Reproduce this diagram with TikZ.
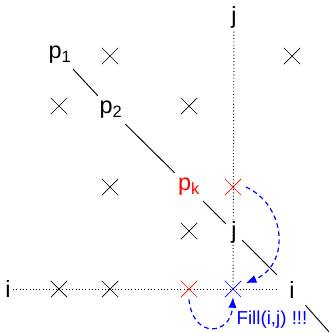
\documentclass[tikz,border=0pt]{standalone}
\usepackage{fontspec}
\setmainfont{Liberation Sans}
\usetikzlibrary{shapes.misc, arrows.meta, positioning}

\begin{document}
\begin{tikzpicture}[x=0.03cm, y=-0.03cm,
  XX/.style ={cross out, draw, line width=0.6pt, minimum size=0.47cm, inner sep=0pt},
  LB/.style ={font=\fontsize{20}{22}\selectfont, inner sep=4.5pt},
  DG/.style ={line width=0.8pt},
  DT/.style ={dotted, line width=0.8pt},
  FA/.style ={-{Latex[length=9pt,width=7pt]}, dash pattern=on 4pt off 3pt, blue, line width=1pt}
]
  \useasboundingbox (0,0) rectangle (328,333);

  % labels on the diagonal
  \node[LB] (p1) at (60,55) {p\textsubscript{1}};
  \node[LB] (p2) at (111,110) {p\textsubscript{2}};
  \node[LB, red] (pk) at (189,187) {p\textsubscript{k}};
  \node[LB] (jm) at (234,232) {j};
  \node[LB, minimum width=0.9cm, minimum height=0.9cm] (ir) at (292,290) {i};
  \coordinate (dend) at (330,333);

  % row and column labels
  \node[LB, inner sep=2pt] (il) at (8,289) {i};
  \node[LB, inner sep=3pt] (jt) at (234,17) {j};
  \coordinate (hend) at (277,289);

  % black crosses
  \foreach \nm/\x/\y in {a/110/56, b/292/56, c/59/106, d/189/106,
                         e/110/187, f/189/231, g/59/289, h/110/289}
    \node[XX] (x\nm) at (\x,\y) {};

  % coloured crosses
  \node[XX, red] (rk) at (233,187) {};
  \node[XX, red] (ri) at (189,289) {};
  \node[XX, blue] (cij) at (233,289) {};

  \draw[DT] (jt) -- (cij.center);
  \draw[DT] (il) -- (hend);

  \foreach \a/\b in {p1/p2,p2/pk,pk/jm,jm/ir,ir/dend}
    \draw[DG] (\a)--(\b);

  \draw[FA] ([xshift=4pt]rk.east) .. controls +(40,18) and +(45,-19) .. ([shift={(4pt,-2pt)}]cij.north east);
  \draw[FA] ([yshift=-2pt]ri.south) .. controls +(4,40) and +(-2,38) .. (cij.south);

  \node[blue, font=\fontsize{16}{18}\selectfont, inner sep=0pt] (fill) at (272,320) {Fill(i,j) !!!};
\end{tikzpicture}
\end{document}
